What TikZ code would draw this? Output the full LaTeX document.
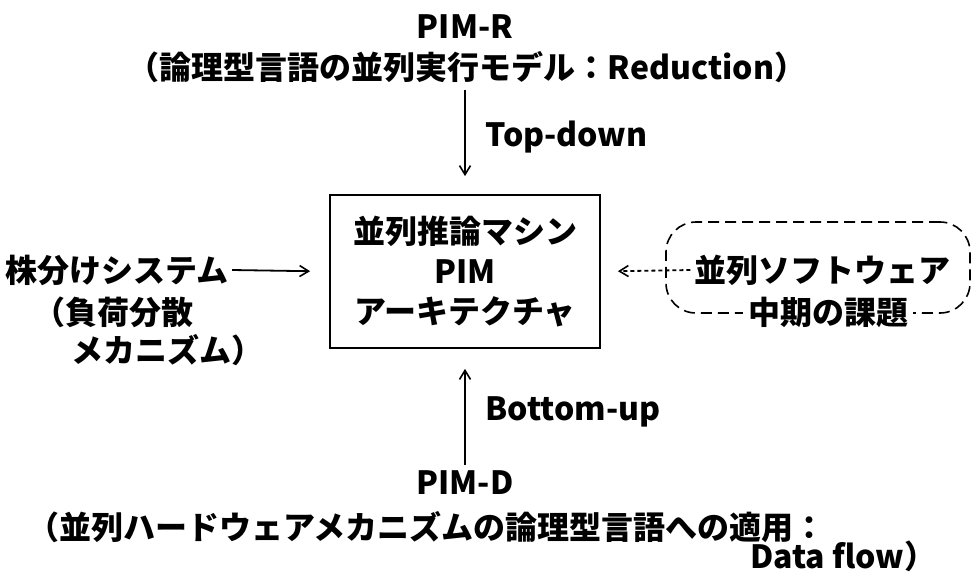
\documentclass[tikz,border=0pt]{standalone}
\usepackage{fontspec}
\setmainfont{Noto Sans CJK JP}
\usetikzlibrary{shapes,arrows.meta}
\tikzstyle{block} = [rectangle, draw, line width=1.8pt, align=center]
\tikzstyle{arrow} = [draw, -{Straight Barb[length=9pt,width=11pt,line width=1.6pt]}, line width=1.8pt]
\tikzstyle{softbox} = [rectangle, draw, line width=1.6pt, dash pattern=on 11pt off 6pt, rounded corners=30]

\begin{document}
\begin{tikzpicture}[x=1pt, y=-1pt, font=\fontsize{32}{40}\selectfont\bfseries]
\useasboundingbox (0,0) rectangle (976,574);

%% PIM-R (top)
\node at (465, 27) (pimr) {PIM-R};
\node at (467, 67) (pimrtext) {（論理型言語の並列実行モデル：Reduction）};
\coordinate (tdstart) at (465, 90);

%% architecture
\node[block, minimum width=270, minimum height=153] at (465, 271.5) (archi) {並列推論マシン\\PIM\\アーキテクチャ};

\path[arrow, shorten >=18] (tdstart) -- (archi.north);
\node[anchor=west] at (482, 137) (topdown) {Top-down};

%% left side
\node[anchor=west] at (2, 270) (kabu) {株分けシステム};
\node[anchor=west] at (30, 312) (fuka) {（負荷分散};
\node[anchor=west] at (68, 350) (mecha) {メカニズム）};
\path[arrow, shorten >=19] (kabu.east) -- (archi.west);

%% right side
\node[softbox, minimum width=304, minimum height=91] at (818, 267.5) (soft) {};
\node at (822, 270) (softtext) {並列ソフトウェア};
\node[fill=white, inner xsep=5, inner ysep=1] at (828, 312) (chuki) {中期の課題};
\path[arrow, dash pattern=on 4pt off 3pt, shorten >=17] (softtext.west) -- (archi.east);

%% PIM-D (bottom)
\coordinate (bustart) at (465, 465);
\path[arrow, shorten >=20] (bustart) -- (archi.south);
\node[anchor=west] at (482, 412) (bottomup) {Bottom-up};
\node at (465, 483) (pimd) {PIM-D};
\node[anchor=west] at (24, 527) (pimdtext) {（並列ハードウェアメカニズムの論理型言語への適用：};
\node[anchor=east] at (940, 556) (dataflow) {Data flow）};
\end{tikzpicture}
\end{document}
